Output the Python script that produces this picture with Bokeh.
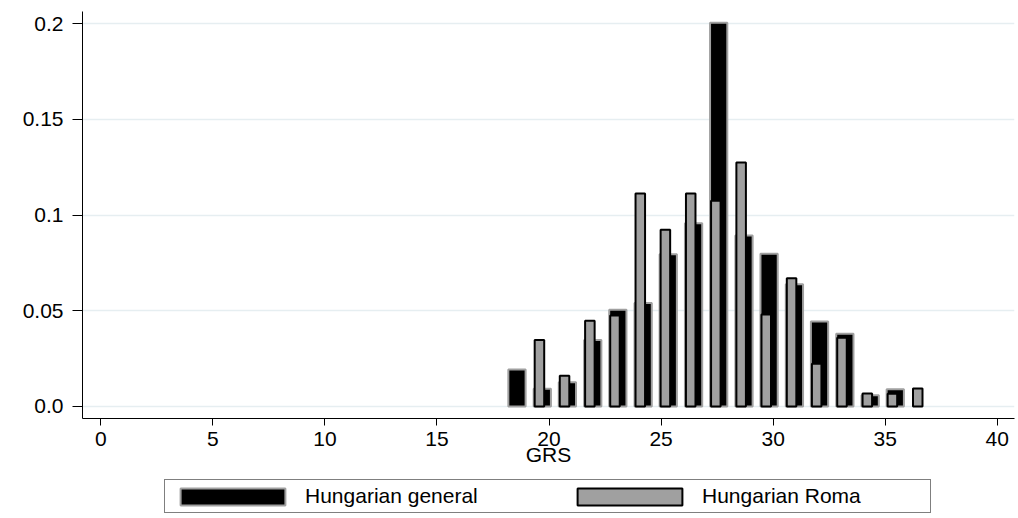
from bokeh.plotting import figure
from bokeh.layouts import column
from bokeh.models import Range1d, FixedTicker, Legend, LegendItem, ColumnDataSource
from bokeh.embed import file_html
from bokeh.resources import INLINE

# ---- data ----
bin_left = [18.14, 19.27, 20.39, 21.52, 22.64, 23.77, 24.89, 26.02, 27.14,
            28.27, 29.39, 30.52, 31.64, 32.77, 33.90, 35.02, 36.15]
general = [0.0193, 0.0092, 0.0127, 0.0347, 0.0505, 0.0540, 0.0796, 0.0958, 0.2005,
           0.0894, 0.0798, 0.0639, 0.0444, 0.0380, 0.0058, 0.0090, 0.0]
roma = [0.0, 0.0347, 0.0160, 0.0448, 0.0475, 0.1113, 0.0923, 0.1113, 0.1075,
        0.1275, 0.0480, 0.0670, 0.0223, 0.0359, 0.0068, 0.0066, 0.0094]
series_names = ["Hungarian general", "Hungarian Roma"]
x_ticks = [0, 5, 10, 15, 20, 25, 30, 35, 40]
y_ticks = [0.0, 0.05, 0.1, 0.15, 0.2]
y_tick_labels = ["0.0", "0.05", "0.1", "0.15", "0.2"]
x_title = "GRS"

# ---- styles ----
FONT = "Liberation Sans"
FS = "21px"
GRAY = "#A0A0A0"
GEN_STYLE = dict(fill_color="black", line_color=GRAY, line_width=2)
ROM_STYLE = dict(fill_color=GRAY, line_color="black", line_width=2)

# bar sources: general (wide) and roma (narrow, drawn on top), skipping empty bins
g_idx = [i for i, v in enumerate(general) if v > 0]
r_idx = [i for i, v in enumerate(roma) if v > 0]
src_gen = ColumnDataSource(dict(left=[bin_left[i] + 0.045 for i in g_idx],
                                right=[bin_left[i] + 0.815 for i in g_idx],
                                top=[general[i] for i in g_idx]))
src_rom = ColumnDataSource(dict(left=[bin_left[i] + 0.09 for i in r_idx],
                                right=[bin_left[i] + 0.515 for i in r_idx],
                                top=[roma[i] for i in r_idx]))

p = figure(width=1018, height=478,
           x_range=Range1d(-0.817, 40.77), y_range=Range1d(-0.0063, 0.2064),
           output_backend="svg", toolbar_location=None,
           min_border_left=82, min_border_right=4, min_border_top=11, min_border_bottom=60)
p.outline_line_color = None
p.background_fill_color = "white"
p.border_fill_color = "white"

p.quad(left="left", right="right", bottom=0, top="top", source=src_gen, **GEN_STYLE)
p.quad(left="left", right="right", bottom=0, top="top", source=src_rom, **ROM_STYLE)

# axes
p.xaxis.ticker = FixedTicker(ticks=x_ticks)
p.yaxis.ticker = FixedTicker(ticks=y_ticks)
p.yaxis.major_label_overrides = {t: s for t, s in zip(y_ticks, y_tick_labels)}
for ax in (p.xaxis[0], p.yaxis[0]):
    ax.axis_line_color = "black"
    ax.axis_line_width = 1
    ax.major_tick_line_color = "black"
    ax.major_tick_in = 0
    ax.minor_tick_line_color = None
    ax.major_label_text_font = FONT
    ax.major_label_text_font_size = FS
    ax.major_label_text_color = "black"
p.xaxis.major_tick_out = 7
p.xaxis.major_label_standoff = 6
p.yaxis.major_tick_out = 10
p.yaxis.major_label_standoff = 9
p.xaxis.axis_label = x_title
p.xaxis.axis_label_text_font = FONT
p.xaxis.axis_label_text_font_size = FS
p.xaxis.axis_label_text_font_style = "normal"
p.xaxis.axis_label_text_color = "black"
p.xaxis.axis_label_standoff = -6

# grid
p.xgrid.visible = False
p.ygrid.ticker = FixedTicker(ticks=y_ticks)
p.ygrid.grid_line_color = "#E6EEF1"
p.ygrid.grid_line_width = 1.5

# legend strip (separate small figure below the chart; its bars lie off-range)
lp = figure(width=1018, height=40, x_range=Range1d(0, 1), y_range=Range1d(0, 1),
            output_backend="svg", toolbar_location=None,
            x_axis_location=None, y_axis_location=None,
            min_border_left=0, min_border_right=0, min_border_top=0, min_border_bottom=0)
lp.grid.visible = False
lp.outline_line_color = None
lp.background_fill_color = "white"
lp.border_fill_color = "white"
k_gen = lp.quad(left="left", right="right", bottom=0, top="top", source=src_gen, **GEN_STYLE)
k_rom = lp.quad(left="left", right="right", bottom=0, top="top", source=src_rom, **ROM_STYLE)
legend = Legend(items=[LegendItem(label=series_names[0], renderers=[k_gen], index=0),
                       LegendItem(label=series_names[1], renderers=[k_rom], index=0)],
                location=(82, 5), orientation="horizontal",
                glyph_width=131, glyph_height=21, label_standoff=7,
                label_width=226, label_height=28, spacing=33, padding=2, margin=0,
                border_line_color="black", border_line_width=1,
                background_fill_color="white", background_fill_alpha=1,
                label_text_font=FONT, label_text_font_size=FS, label_text_color="black")
lp.add_layout(legend)

layout = column(p, lp, spacing=0)
open("out.html", "w").write(file_html(layout, INLINE))
